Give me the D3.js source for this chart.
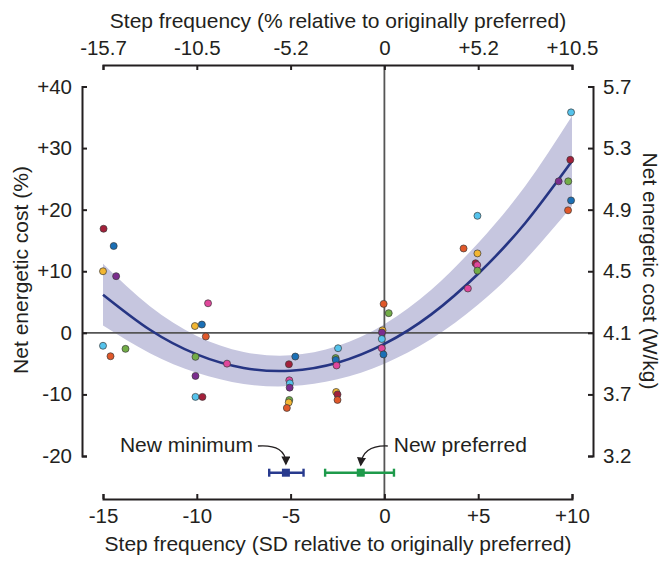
<!DOCTYPE html>
<html lang="en">
<head>
    <meta charset="UTF-8">
    <title>Step frequency vs net energetic cost</title>
    <script src="https://cdn.jsdelivr.net/npm/d3@7/dist/d3.min.js"></script>
    <style>
        body { margin: 0; background: #fff; }
        svg { display: block; font-family: "Liberation Sans", Arial, sans-serif; }
        .axis path, .axis line { stroke: #231f20; stroke-width: 2px; }
        .axis text { font-size: 20.5px; fill: #231f20; font-family: "Liberation Sans", Arial, sans-serif; }
        .title { font-size: 21px; fill: #231f20; }
        .pt { stroke: #3a3a3a; stroke-width: 0.7px; }
    </style>
</head>
<body>
<script>
    // canvas
    const width = 662;
    const height = 561;

    // axis ticks and labels
    const sdTicks = [-15, -10, -5, 0, 5, 10];
    const sdLabels = ['-15', '-10', '-5', '0', '+5', '+10'];
    const pctLabels = ['-15.7', '-10.5', '-5.2', '0', '+5.2', '+10.5'];
    const costTicks = [-20, -10, 0, 10, 20, 30, 40];
    const costLabels = ['-20', '-10', '0', '+10', '+20', '+30', '+40'];
    const wkgLabels = ['3.2', '3.7', '4.1', '4.5', '4.9', '5.3', '5.7'];

    // subject colours
    const subjectColors = ['#a3203a', '#1a6fb5', '#f2b632', '#7b2d8e', '#e0479b', '#55c3ec', '#e0582a', '#72ad47'];

    // individual points (SD, % cost, subject)
    const pointSD = [
        -14.97, -14.43, -15.0, -14.3, -15.0, -14.6, -13.8,
        -9.4, -10.1, -9.73, -9.52, -10.07, -8.39, -10.07, -10.07, -9.7,
        -4.75, -5.09, -5.07, -5.04, -5.05, -5.07, -5.1, -5.2,
        -2.47, -2.6, -2.59, -2.55, -2.57, -2.5, -2.5,
        -0.04, 0.23, -0.1, -0.13, -0.14, -0.14, -0.05,
        4.96, 4.22, 4.96, 4.86, 4.95, 4.96, 4.45,
        9.95, 9.91, 9.29, 9.8, 9.95, 9.79
    ];
    const pointCost = [
        16.9, 14.1, 10.0, 9.2, -2.1, -3.8, -2.6,
        4.8, 1.1, 1.35, -0.6, -3.9, -5.0, -7.0, -10.4, -10.4,
        -3.85, -5.1, -7.7, -8.2, -8.9, -10.9, -11.3, -12.2,
        -2.5, -4.1, -4.4, -5.3, -9.6, -10.0, -10.9,
        4.7, 3.2, 0.4, 0.05, -1.0, -2.5, -3.5,
        19.0, 13.7, 12.9, 11.3, 11.0, 10.1, 7.2,
        35.8, 28.1, 24.6, 24.6, 21.5, 19.9
    ];
    const pointSubject = [
        0, 1, 2, 3, 5, 6, 7,
        4, 2, 1, 6, 7, 4, 3, 5, 0,
        1, 0, 4, 5, 3, 7, 2, 6,
        5, 7, 1, 4, 2, 0, 6,
        6, 7, 2, 3, 5, 4, 1,
        5, 6, 2, 0, 4, 7, 4,
        5, 0, 3, 7, 1, 6
    ];

    // fitted curve and confidence band
    const fitSD = [-15, -12.5, -10, -7.5, -5, -2.5, 0, 2.5, 5, 7.5, 10];
    const fitCost = [6.2, 0.5, -3.5, -5.7, -6.15, -4.85, -1.8, 3.0, 9.6, 17.8, 27.9];
    const fitHalfBand = [5.0, 3.8, 3.0, 2.6, 2.5, 2.7, 3.2, 4.0, 5.0, 6.0, 7.3];

    // new minimum / new preferred (mean, low, high in SD)
    const markerNames = ['New minimum', 'New preferred'];
    const markerMean = [-5.25, -1.26];
    const markerLow = [-6.14, -3.16];
    const markerHigh = [-4.31, 0.51];
    const markerColors = ['#283a8e', '#1e9a4b'];

    const x = d3.scaleLinear().domain([-15, 10]).range([103, 572]);
    const y = d3.scaleLinear().domain([-20, 40]).range([456, 86.5]);

    const svg = d3.select('body').append('svg')
        .attr('width', width)
        .attr('height', height);

    // confidence band
    const fit = fitSD.map((s, i) => ({ s: s, c: fitCost[i], h: fitHalfBand[i] }));
    svg.append('path')
        .datum(fit)
        .attr('fill', '#c6c6df')
        .attr('d', d3.area()
            .x(d => x(d.s))
            .y0(d => y(d.c - d.h))
            .y1(d => y(d.c + d.h))
            .curve(d3.curveNatural));

    // zero lines
    svg.append('line')
        .attr('x1', 82).attr('x2', 593)
        .attr('y1', y(0)).attr('y2', y(0))
        .attr('stroke', '#555').attr('stroke-width', 1.8);
    svg.append('line')
        .attr('x1', x(0)).attr('x2', x(0))
        .attr('y1', 65).attr('y2', 499)
        .attr('stroke', '#555').attr('stroke-width', 1.8);

    // fitted curve
    svg.append('path')
        .datum(fit)
        .attr('fill', 'none')
        .attr('stroke', '#263583')
        .attr('stroke-width', 2.6)
        .attr('d', d3.line()
            .x(d => x(d.s))
            .y(d => y(d.c))
            .curve(d3.curveNatural));

    // points
    const points = pointSD.map((s, i) => ({ s: s, c: pointCost[i], k: pointSubject[i] }));
    svg.append('g')
        .selectAll('circle')
        .data(points)
        .enter()
        .append('circle')
        .attr('class', 'pt')
        .attr('cx', d => x(d.s))
        .attr('cy', d => y(d.c))
        .attr('r', 3.5)
        .attr('fill', d => subjectColors[d.k]);

    // axes
    svg.append('g')
        .attr('class', 'axis')
        .attr('transform', 'translate(0,499)')
        .call(d3.axisBottom(x).tickValues(sdTicks)
            .tickFormat((d, i) => sdLabels[i])
            .tickSizeInner(-5).tickSizeOuter(-5).tickPadding(9));

    svg.append('g')
        .attr('class', 'axis')
        .attr('transform', 'translate(0,65)')
        .call(d3.axisTop(x).tickValues(sdTicks)
            .tickFormat((d, i) => pctLabels[i])
            .tickSizeInner(-5).tickSizeOuter(-5).tickPadding(10));

    svg.append('g')
        .attr('class', 'axis')
        .attr('transform', 'translate(82,0)')
        .call(d3.axisLeft(y).tickValues(costTicks)
            .tickFormat((d, i) => costLabels[i])
            .tickSizeInner(-5).tickSizeOuter(-5).tickPadding(10));

    svg.append('g')
        .attr('class', 'axis')
        .attr('transform', 'translate(593,0)')
        .call(d3.axisRight(y).tickValues(costTicks)
            .tickFormat((d, i) => wkgLabels[i])
            .tickSizeInner(-5).tickSizeOuter(-5).tickPadding(10));

    d3.selectAll('.axis path').attr('fill', 'none');

    // axis titles
    svg.append('text').attr('class', 'title')
        .attr('x', 338).attr('y', 28)
        .attr('text-anchor', 'middle')
        .text('Step frequency (% relative to originally preferred)');
    svg.append('text').attr('class', 'title')
        .attr('x', 338).attr('y', 551)
        .attr('text-anchor', 'middle')
        .text('Step frequency (SD relative to originally preferred)');
    svg.append('text').attr('class', 'title')
        .attr('transform', 'translate(28,270) rotate(-90)')
        .attr('text-anchor', 'middle')
        .text('Net energetic cost (%)');
    svg.append('text').attr('class', 'title')
        .attr('transform', 'translate(643,271) rotate(90)')
        .attr('text-anchor', 'middle')
        .text('Net energetic cost (W/kg)');

    // new minimum / new preferred markers
    const barY = 472.7;
    const markers = markerNames.map((n, i) => ({
        name: n, m: markerMean[i], lo: markerLow[i], hi: markerHigh[i], color: markerColors[i]
    }));
    const mg = svg.append('g').selectAll('g').data(markers).enter().append('g');
    mg.append('line')
        .attr('x1', d => x(d.lo)).attr('x2', d => x(d.hi))
        .attr('y1', barY).attr('y2', barY)
        .attr('stroke', d => d.color).attr('stroke-width', 2.6);
    mg.append('line')
        .attr('x1', d => x(d.lo)).attr('x2', d => x(d.lo))
        .attr('y1', barY - 4).attr('y2', barY + 4)
        .attr('stroke', d => d.color).attr('stroke-width', 2.4);
    mg.append('line')
        .attr('x1', d => x(d.hi)).attr('x2', d => x(d.hi))
        .attr('y1', barY - 4).attr('y2', barY + 4)
        .attr('stroke', d => d.color).attr('stroke-width', 2.4);
    mg.append('rect')
        .attr('x', d => x(d.m) - 4).attr('y', barY - 4)
        .attr('width', 8).attr('height', 8)
        .attr('fill', d => d.color);

    // arrow heads
    svg.append('defs').append('marker')
        .attr('id', 'head')
        .attr('viewBox', '0 0 10 10')
        .attr('refX', 8).attr('refY', 5)
        .attr('markerWidth', 7).attr('markerHeight', 7)
        .attr('orient', 'auto')
        .append('path')
        .attr('d', 'M0,0 L10,5 L0,10 z')
        .attr('fill', '#231f20');

    // labels with curved arrows
    const mx = x(markerMean[0]);
    const px = x(markerMean[1]);
    svg.append('text').attr('class', 'title')
        .attr('x', mx - 33).attr('y', 451.5)
        .attr('text-anchor', 'end')
        .text(markerNames[0]);
    svg.append('path')
        .attr('d', `M${mx - 28},446 Q${mx},444 ${mx},${barY - 9}`)
        .attr('fill', 'none').attr('stroke', '#231f20').attr('stroke-width', 1.3)
        .attr('marker-end', 'url(#head)');
    svg.append('text').attr('class', 'title')
        .attr('x', px + 33).attr('y', 451.5)
        .attr('text-anchor', 'start')
        .text(markerNames[1]);
    svg.append('path')
        .attr('d', `M${px + 27},446 Q${px + 2},445 ${px},${barY - 8}`)
        .attr('fill', 'none').attr('stroke', '#231f20').attr('stroke-width', 1.3)
        .attr('marker-end', 'url(#head)');
</script>
</body>
</html>
